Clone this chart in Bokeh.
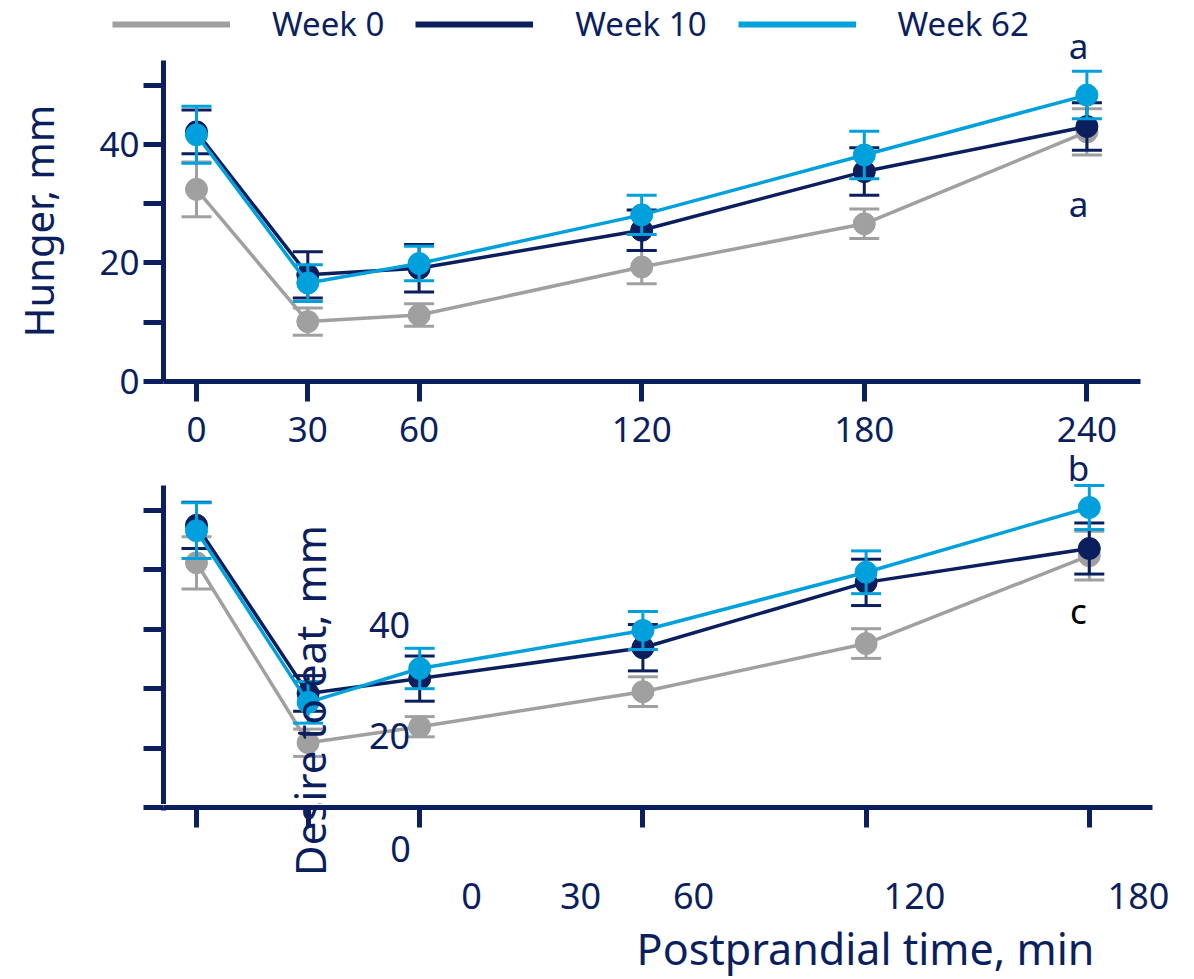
import math
import numpy as np
from bokeh.plotting import figure
from bokeh.models import ColumnDataSource, FixedTicker, Legend, LegendItem, Label, Range1d
from bokeh.layouts import column
from bokeh.embed import file_html
from bokeh.resources import INLINE

# ---------------- data ----------------
time_min = [0, 30, 60, 120, 180, 240]
series_names = ["Week 0", "Week 10", "Week 62"]

hunger_week0 = [32.4, 10.1, 11.2, 19.3, 26.6, 42.1]
hunger_week0_se = [4.6, 2.3, 1.9, 2.8, 2.5, 3.9]
hunger_week10 = [42.1, 18.0, 19.1, 25.5, 35.4, 43.0]
hunger_week10_se = [3.7, 3.9, 4.0, 3.4, 4.0, 4.0]
hunger_week62 = [41.6, 16.6, 19.9, 28.1, 38.2, 48.3]
hunger_week62_se = [4.8, 3.1, 2.9, 3.3, 4.0, 4.0]

desire_week0 = [41.2, 10.9, 13.6, 19.5, 27.6, 42.4]
desire_week0_se = [4.4, 2.3, 1.7, 2.5, 2.5, 4.1]
desire_week10 = [47.5, 19.2, 21.7, 26.9, 37.9, 43.6]
desire_week10_se = [3.9, 3.0, 3.8, 3.9, 3.9, 4.3]
desire_week62 = [46.6, 17.7, 23.4, 29.8, 39.6, 50.5]
desire_week62_se = [4.7, 3.5, 3.4, 3.2, 3.6, 3.7]

y_ticks = [0, 10, 20, 30, 40, 50]
hunger_y_labels = {0: "0", 10: "", 20: "20", 30: "", 40: "40", 50: ""}

# ---------------- styling / layout ----------------
NAVY = "#0b1f5e"
COLORS = ["#a0a0a0", "#0b1f5e", "#00a0dc"]
FONT = "Noto Sans"
W = 1194

# page geometry in canvas pixels (top-left origin)
# L: legend strip, A: hunger panel, B: desire panel, C: strip with the desire panel's time axis
GL = dict(ctop=0, h=60, ftop=0, fbot=60, fleft=0, fright=1194, x0=0, xppu=1.0, y0=60, yppu=1.0)
GA = dict(ctop=60, h=392, ftop=60, fbot=381, fleft=163, fright=1194, x0=196, xppu=3.71, y0=381, yppu=5.93)
GB = dict(ctop=452, h=352, ftop=452, fbot=804, fleft=163, fright=1194, x0=196, xppu=3.72, y0=807, yppu=5.94)
GC = dict(ctop=804, h=175, ftop=807, fbot=979, fleft=163, fright=1194, x0=196, xppu=3.72, y0=807, yppu=5.94)


def xval(g, px):
    return (px - g["x0"]) / g["xppu"]


def yval(g, py):
    return (g["y0"] - py) / g["yppu"]


def make_fig(g, **kw):
    p = figure(width=W, height=g["h"],
               x_range=Range1d(xval(g, g["fleft"]), xval(g, g["fright"])),
               y_range=Range1d(yval(g, g["fbot"]), yval(g, g["ftop"])),
               output_backend="svg", toolbar_location=None,
               min_border_left=g["fleft"], min_border_right=W - g["fright"],
               min_border_top=g["ftop"] - g["ctop"],
               min_border_bottom=g["ctop"] + g["h"] - g["fbot"], **kw)
    p.outline_line_color = None
    p.grid.visible = False
    p.background_fill_color = "white"
    p.border_fill_color = "white"
    for ax in list(p.xaxis) + list(p.yaxis):
        ax.axis_line_color = NAVY
        ax.axis_line_width = 5
        ax.major_tick_line_color = NAVY
        ax.major_tick_line_width = 5
        ax.major_tick_out = 20
        ax.major_tick_in = 0
        ax.minor_tick_line_color = None
        ax.major_label_text_font = FONT
        ax.major_label_text_font_size = "35px"
        ax.major_label_text_color = NAVY
        ax.major_label_standoff = 4
    for ax in p.xaxis:
        ax.ticker = FixedTicker(ticks=time_min)
    for ax in p.yaxis:
        ax.ticker = FixedTicker(ticks=y_ticks)
    return p


def draw_series(p, ys, ses, color):
    y = np.array(ys, dtype=float)
    se = np.array(ses, dtype=float)
    src = ColumnDataSource(dict(x=time_min, y=ys, lo=list(y - se), hi=list(y + se)))
    p.segment(x0="x", y0="lo", x1="x", y1="hi", source=src, line_color=color, line_width=3)
    p.scatter(x="x", y="hi", marker="dash", size=30, line_color=color, line_width=3, source=src)
    p.scatter(x="x", y="lo", marker="dash", size=30, line_color=color, line_width=3, source=src)
    p.line(x="x", y="y", source=src, line_color=color, line_width=3.5)
    p.scatter(x="x", y="y", size=22, fill_color=color, line_color=color, source=src)


def add_note(p, g, text, px, py, color=NAVY, size="35px", angle=0.0):
    p.add_layout(Label(x=xval(g, px), y=yval(g, py), text=text, text_font=FONT,
                       text_font_size=size, text_color=color, text_align="center",
                       text_baseline="middle", angle=angle))


# ---------------- legend strip (with the first letter mark) ----------------
pl = make_fig(GL, x_axis_location=None, y_axis_location=None)
legend_items = []
for name, c in zip(series_names, COLORS):
    # key-only line, kept outside the strip's visible range
    r = pl.line(x=[-100, -90], y=[-100, -100], line_color=c, line_width=6)
    legend_items.append(LegendItem(label=name, renderers=[r]))
legend = Legend(items=legend_items, location=(112, 14),
                orientation="horizontal", glyph_width=118, glyph_height=36,
                label_height=36, label_standoff=42, spacing=31, padding=0, margin=0,
                border_line_color=None, background_fill_alpha=0,
                label_text_font=FONT, label_text_font_size="33px", label_text_color=NAVY)
pl.add_layout(legend, "center")
add_note(pl, GL, "a", 1078, 45)

# ---------------- A: Hunger ----------------
pa = make_fig(GA)
pa.xaxis.bounds = (xval(GA, 163), xval(GA, 1140))
pa.yaxis.bounds = (0, 55)
pa.xaxis.major_label_standoff = 15
pa.yaxis.major_label_overrides = hunger_y_labels
pa.yaxis.axis_label = "Hunger, mm"
pa.yaxis.axis_label_text_font = FONT
pa.yaxis.axis_label_text_font_size = "40px"
pa.yaxis.axis_label_text_font_style = "normal"
pa.yaxis.axis_label_text_color = NAVY
pa.yaxis.axis_label_standoff = 30

for ys, ses, c in zip([hunger_week0, hunger_week10, hunger_week62],
                      [hunger_week0_se, hunger_week10_se, hunger_week62_se], COLORS):
    draw_series(pa, ys, ses, c)

add_note(pa, GA, "a", 1078, 203)

# ---------------- B: Desire to eat ----------------
pb = make_fig(GB, x_axis_location=None)
pb.yaxis.bounds = (0, 54.2)
pb.yaxis.major_label_overrides = {t: "" for t in y_ticks}
pb.yaxis.major_label_text_font_size = "1px"

for ys, ses, c in zip([desire_week0, desire_week10, desire_week62],
                      [desire_week0_se, desire_week10_se, desire_week62_se], COLORS):
    draw_series(pb, ys, ses, c)

add_note(pb, GB, "b", 1078, 467)
add_note(pb, GB, "c", 1078, 610, color="black")

# loose texts of the slide, at their page positions (B and C share the rotated title)
for t, px, py in [("40", 389, 624), ("20", 389, 735)]:
    add_note(pb, GB, t, px, py, size="36px")
add_note(pb, GB, "Desire to eat, mm", 309, 700, size="42px", angle=math.pi / 2)

# ---------------- C: time axis of the desire panel ----------------
pc = make_fig(GC, x_axis_location="above")
pc.xaxis.bounds = (xval(GC, 163), xval(GC, 1152))
pc.xaxis.major_tick_out = 0
pc.xaxis.major_tick_in = 20
pc.xaxis.major_label_overrides = {t: "" for t in time_min}
pc.xaxis.major_label_text_font_size = "1px"
pc.xaxis.major_label_standoff = 0
# the zero tick of the desire scale sits at the top of this strip
pc.yaxis.ticker = FixedTicker(ticks=[0])
pc.yaxis.bounds = (-0.5, 0)
pc.yaxis.major_label_overrides = {0: ""}
pc.yaxis.major_label_text_font_size = "1px"

add_note(pc, GC, "Desire to eat, mm", 309, 700, size="42px", angle=math.pi / 2)
for t, px, py in [("0", 400, 848), ("0", 471, 895), ("30", 580, 895), ("60", 693, 895),
                  ("120", 914, 895), ("180", 1138, 895)]:
    add_note(pc, GC, t, px, py, size="36px")
add_note(pc, GC, "Postprandial time, min", 865, 948, size="43px")

layout = column(pl, column(pa, pb, pc, spacing=0), spacing=0)
open("out.html", "w").write(file_html(layout, INLINE))
